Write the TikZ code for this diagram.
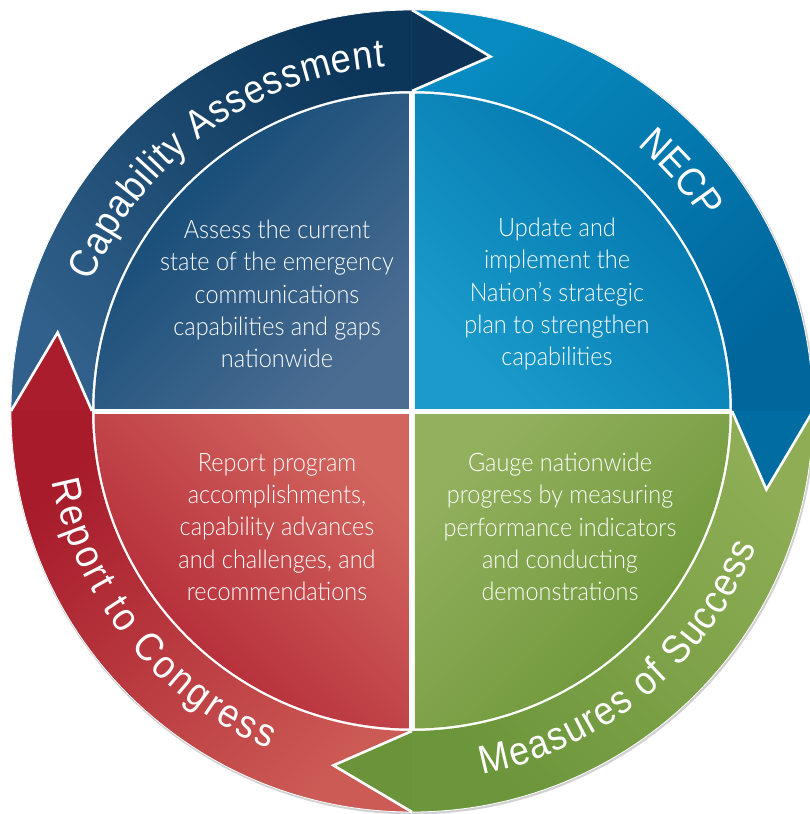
\documentclass[tikz,border=0pt]{standalone}
\usepackage{fontspec}
\setmainfont{Liberation Sans}
\newfontfamily\bodyfont[FakeStretch=0.92]{Lato Light}
\newfontfamily\ringfont[FakeStretch=0.9]{Liberation Sans}
\usetikzlibrary{decorations.text}
\definecolor{tlA}{HTML}{0A4673}
\definecolor{tlB}{HTML}{4C6D92}
\definecolor{trA}{HTML}{0072A9}
\definecolor{trB}{HTML}{1A9BCB}
\definecolor{blA}{HTML}{D2665F}
\definecolor{blB}{HTML}{B02232}
\definecolor{brA}{HTML}{93B05E}
\definecolor{brB}{HTML}{699434}
\definecolor{nbA}{HTML}{0C3659}
\definecolor{nbB}{HTML}{30608B}
\definecolor{bbA}{HTML}{078BC0}
\definecolor{bbB}{HTML}{00669C}
\definecolor{gbA}{HTML}{8EAD55}
\definecolor{gbB}{HTML}{6C963B}
\definecolor{rbA}{HTML}{A71B2B}
\definecolor{rbB}{HTML}{CC5A55}
\definecolor{nhead}{HTML}{0D3457}
\definecolor{bhead}{HTML}{006CA2}
\definecolor{ghead}{HTML}{6B943A}
\definecolor{rhead}{HTML}{AA1D2D}
\newcommand\ringfmt{\ringfont\fontsize{40}{40}\selectfont\color{white}}
\tikzset{
  inner/.style={text=white, align=center, font=\bodyfont\fontsize{25.5}{32.3}\selectfont},
  headedge/.style={white, line width=2.6, line join=miter},
  ringtext/.style={decorate, decoration={text along path, text align={fit to path}, text={|\ringfmt|#1}}},
  ringtextc/.style={decorate, decoration={text along path, text align=center, text={|\ringfmt|#1}}}
}
\begin{document}
\begin{tikzpicture}[x=1pt,y=1pt]
\useasboundingbox (-412,-403) rectangle (397,411);
% soft shadow of the ring
\draw[black!18, line width=2.5] (0.8,-1.2) circle (401);
% inner quadrants
\begin{scope}
\clip (0,0) circle (317.5);
\shade[top color=tlA, bottom color=tlB, shading angle=45] (-320,3) rectangle (-3,320);
\shade[top color=trA, bottom color=trB, shading angle=-45] (3,3) rectangle (320,320);
\shade[top color=blA, bottom color=blB, shading angle=-45] (-320,-3) rectangle (-3,-320);
\shade[top color=brA, bottom color=brB, shading angle=45] (3,-3) rectangle (320,-320);
\end{scope}
% ring bands
\shade[top color=nbA, bottom color=nbB, shading angle=-45]
  (180:401) arc[start angle=180, end angle=90, radius=401] -- (90:320)
  arc[start angle=90, end angle=180, radius=320] -- cycle;
\shade[top color=bbA, bottom color=bbB, shading angle=45]
  (90:401) arc[start angle=90, end angle=0, radius=401] -- (0:320)
  arc[start angle=0, end angle=90, radius=320] -- cycle;
\shade[top color=gbA, bottom color=gbB, shading angle=-45]
  (0:401) arc[start angle=0, end angle=-90, radius=401] -- (-90:320)
  arc[start angle=-90, end angle=0, radius=320] -- cycle;
\shade[top color=rbA, bottom color=rbB, shading angle=45]
  (-90:401) arc[start angle=-90, end angle=-180, radius=401] -- (-180:320)
  arc[start angle=-180, end angle=-90, radius=320] -- cycle;
\draw[white, line width=0.8] (0,0) circle (401);
% arrow heads
\fill[nhead] (90:401) -- (77.5:363) -- (90:320) -- cycle;
\draw[headedge] (90:401) -- (77.5:363) -- (90:320);
\fill[bhead] (0:401) -- (-12.5:363) -- (0:320) -- cycle;
\draw[headedge] (0:401) -- (-12.5:363) -- (0:320);
\fill[ghead] (-90:401) -- (-102.5:363) -- (-90:320) -- cycle;
\draw[headedge] (-90:401) -- (-102.5:363) -- (-90:320);
\fill[rhead] (180:401) -- (167.5:363) -- (180:320) -- cycle;
\draw[headedge] (180:401) -- (167.5:363) -- (180:320);
% ring labels
\path[ringtext={Capability Assessment}] (158:345) arc[start angle=158, end angle=94.5, radius=345];
\path[ringtextc={NECP}] (52:348) arc[start angle=52, end angle=31, radius=348];
\path[ringtext={Measures of Success}] (-79:370) arc[start angle=-79, end angle=-21.5, radius=370];
\path[ringtext={Report to Congress}] (191:367) arc[start angle=191, end angle=247, radius=367];
% quadrant texts
\node[inner] (tl) at (-135,117) {Assess the current\\state of the emergency\\communications\\capabilities and gaps\\nationwide};
\node[inner] (tr) at (145,117) {Update and\\implement the\\Nation’s strategic\\plan to strengthen\\capabilities};
\node[inner] (bl) at (-135,-116) {Report program\\accomplishments,\\capability advances\\and challenges, and\\recommendations};
\node[inner] (br) at (148,-116) {Gauge nationwide\\progress by measuring\\performance indicators\\and conducting\\demonstrations};
\end{tikzpicture}
\end{document}
